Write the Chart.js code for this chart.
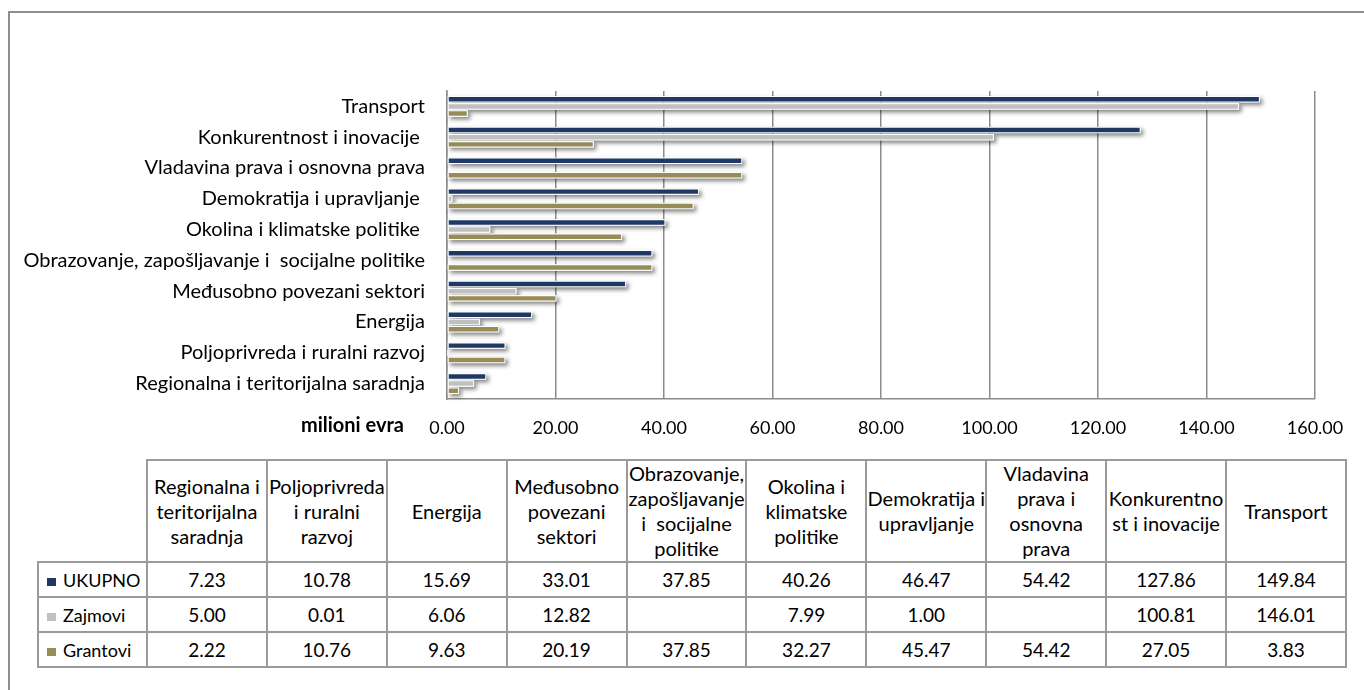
<!DOCTYPE html>
<html>
<head>
<meta charset="utf-8">
<script src="https://cdn.jsdelivr.net/npm/chart.js@4.4.1/dist/chart.umd.min.js"></script>
<style>
  html, body { margin:0; padding:0; background:#fff; }
  #wrap { position:relative; width:1364px; height:690px; overflow:hidden; font-family:Lato, sans-serif; }
  #frame { position:absolute; left:8px; top:11px; width:1400px; height:720px; border:2px solid #8f8f8f; box-sizing:border-box; }
  #cv { position:absolute; left:0; top:0; }
  #tbl { position:absolute; left:37px; top:459px; border-collapse:collapse; table-layout:fixed; font-size:19px; color:#000; }
  #tbl td, #tbl th { border:2px solid #9a9a9a; text-align:center; padding:0; font-weight:normal; white-space:pre; }
  #tbl th { line-height:25px; height:100px; font-size:20px; }
  #tbl th.corner { border-top:none; border-left:none; }
  #tbl td { height:33px; }
  #tbl td.rh { text-align:left; padding-left:8px; font-size:18px; }
  .sw { display:inline-block; width:9px; height:8px; margin-right:7px; vertical-align:1px; }
</style>
</head>
<body>
<div id="wrap">
  <div id="frame"></div>
  <canvas id="cv" width="1364" height="445"></canvas>
  <table id="tbl"></table>
</div>
<script>
// ---- data ----
const categories = ['Regionalna i teritorijalna saradnja', 'Poljoprivreda i ruralni razvoj', 'Energija', 'Međusobno povezani sektori', 'Obrazovanje, zapošljavanje i  socijalne politike', 'Okolina i klimatske politike ', 'Demokratija i upravljanje ', 'Vladavina prava i osnovna prava', 'Konkurentnost i inovacije ', 'Transport'];
const tableHeaders = ['Regionalna i\nteritorijalna\nsaradnja', 'Poljoprivreda\ni ruralni\nrazvoj', 'Energija', 'Međusobno\npovezani\nsektori', 'Obrazovanje,\nzapošljavanje\ni  socijalne\npolitike', 'Okolina i\nklimatske\npolitike', 'Demokratija i\nupravljanje', 'Vladavina\nprava i\nosnovna\nprava', 'Konkurentno\nst i inovacije', 'Transport'];
const seriesNames = ['UKUPNO', 'Zajmovi', 'Grantovi'];
const ukupno   = [7.23, 10.78, 15.69, 33.01, 37.85, 40.26, 46.47, 54.42, 127.86, 149.84];
const zajmovi  = [5.00, 0.01, 6.06, 12.82, null, 7.99, 1.00, null, 100.81, 146.01];
const grantovi = [2.22, 10.76, 9.63, 20.19, 37.85, 32.27, 45.47, 54.42, 27.05, 3.83];
const xTickValues = [0, 20, 40, 60, 80, 100, 120, 140, 160];
const axisTitle = 'milioni evra';
const seriesColors = ['#1f3864', '#c0c0c0', '#978c57'];

const seriesValues = [ukupno, zajmovi, grantovi];

// ---- table ----
const tbl = document.getElementById('tbl');
let html = '<colgroup><col style="width:109px">';
for (let i = 0; i < categories.length; i++) html += '<col style="width:119.9px">';
html += '</colgroup><tr><th class="corner"></th>';
tableHeaders.forEach(h => { html += '<th>' + h + '</th>'; });
html += '</tr>';
seriesNames.forEach((n, si) => {
  html += '<tr><td class="rh"><span class="sw" style="background:' + seriesColors[si] + '"></span>' + n + '</td>';
  seriesValues[si].forEach(v => { html += '<td>' + (v == null ? '' : v.toFixed(2)) + '</td>'; });
  html += '</tr>';
});
tbl.innerHTML = html;

// ---- plugins ----
const barShadow = {
  id: 'barShadow',
  beforeDatasetsDraw(chart) {
    const ctx = chart.ctx;
    ctx.save();
    ctx.shadowColor = 'rgba(0,0,0,0.5)';
    ctx.shadowBlur = 4;
    ctx.shadowOffsetX = 2.5;
    ctx.shadowOffsetY = 2.5;
    ctx.fillStyle = '#ffffff';
    chart.data.datasets.forEach((ds, i) => {
      chart.getDatasetMeta(i).data.forEach((el, j) => {
        if (ds.data[j] == null) return;
        const p = el.getProps(['x', 'y', 'base', 'height'], true);
        if (!isFinite(p.x)) return;
        const l = Math.min(p.base, p.x), w = Math.abs(p.x - p.base);
        ctx.fillRect(l, p.y - p.height / 2, w, p.height);
      });
    });
    ctx.restore();
  }
};
const axisTitlePlugin = {
  id: 'axisTitleLeft',
  afterDraw(chart) {
    const ctx = chart.ctx;
    const xs = chart.scales.x;
    ctx.save();
    ctx.font = 'bold 20px Lato';
    ctx.fillStyle = '#000';
    ctx.textAlign = 'right';
    ctx.textBaseline = 'middle';
    ctx.fillText(axisTitle, chart.chartArea.left - 43, xs.top + 27);
    ctx.restore();
  }
};

// ---- chart ----
new Chart(document.getElementById('cv'), {
  type: 'bar',
  data: {
    labels: categories,
    datasets: seriesNames.map((n, i) => ({
      label: n,
      data: seriesValues[i],
      backgroundColor: seriesColors[i],
      borderColor: '#ffffff',
      borderWidth: 1,
      borderSkipped: false,
      categoryPercentage: 0.7,
      barPercentage: 0.9
    }))
  },
  options: {
    indexAxis: 'y',
    responsive: false,
    animation: false,
    layout: { padding: { top: 91, right: 49, left: 0, bottom: 0 } },
    plugins: { legend: { display: false }, tooltip: { enabled: false } },
    scales: {
      x: {
        min: 0, max: 160,
        afterBuildTicks(scale) { scale.ticks = xTickValues.map(v => ({ value: v })); },
        afterFit(scale) { scale.height = 46; },
        grid: { color: '#8c8c8c', lineWidth: 1.5, drawTicks: false },
        border: { display: true, color: '#8c8c8c', width: 1.5 },
        ticks: { padding: 18, color: '#000', font: { family: 'Lato', size: 18 }, callback: v => Number(v).toFixed(2), maxRotation: 0 }
      },
      y: {
        reverse: true,
        afterFit(scale) { scale.width = 447; },
        grid: { display: false, drawTicks: false },
        border: { display: true, color: '#8c8c8c', width: 1.5 },
        ticks: { padding: 22, color: '#000', font: { family: 'Lato', size: 20 }, autoSkip: false }
      }
    }
  },
  plugins: [barShadow, axisTitlePlugin]
});
</script>
</body>
</html>
